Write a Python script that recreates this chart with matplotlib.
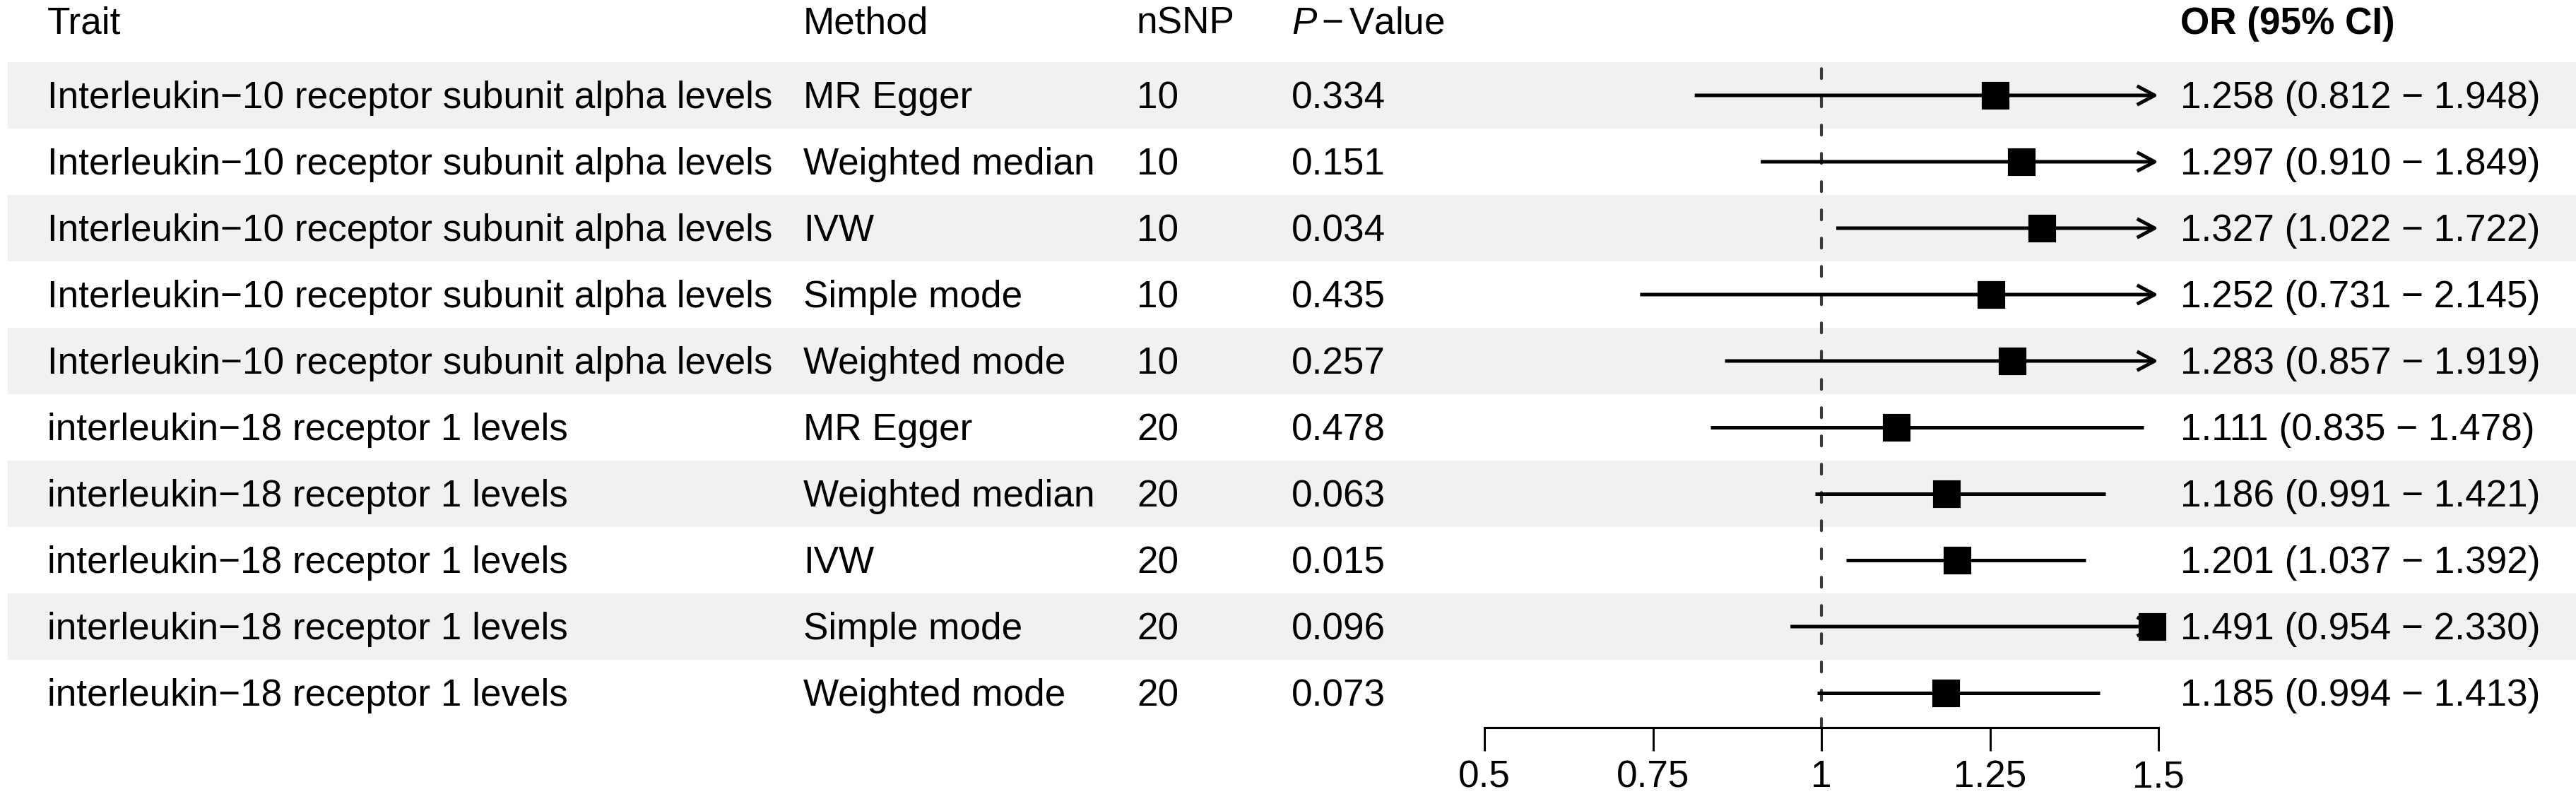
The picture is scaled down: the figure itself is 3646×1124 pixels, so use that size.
import matplotlib
matplotlib.use("Agg")
import matplotlib.pyplot as plt
from matplotlib.patches import Rectangle, FancyArrowPatch

plt.rcParams['font.family'] = ['Liberation Sans', 'DejaVu Sans']
plt.rcParams['mathtext.fontset'] = 'custom'
plt.rcParams['mathtext.rm'] = 'Liberation Sans'
plt.rcParams['mathtext.it'] = 'Liberation Sans:italic'
plt.rcParams['mathtext.bf'] = 'Liberation Sans:bold'

# ---------------- data ----------------
traits = ["Interleukin\u221210 receptor subunit alpha levels"] * 5 + \
         ["interleukin\u221218 receptor 1 levels"] * 5
methods = ["MR Egger", "Weighted median", "IVW", "Simple mode", "Weighted mode"] * 2
nsnp = [10, 10, 10, 10, 10, 20, 20, 20, 20, 20]
pvals = ["0.334", "0.151", "0.034", "0.435", "0.257",
         "0.478", "0.063", "0.015", "0.096", "0.073"]
or_est = [1.258, 1.297, 1.327, 1.252, 1.283, 1.111, 1.186, 1.201, 1.491, 1.185]
or_lo = [0.812, 0.910, 1.022, 0.731, 0.857, 0.835, 0.991, 1.037, 0.954, 0.994]
or_hi = [1.948, 1.849, 1.722, 2.145, 1.919, 1.478, 1.421, 1.392, 2.330, 1.413]
xticks = [0.5, 0.75, 1, 1.25, 1.5]
xticklabels = ["0.5", "0.75", "1", "1.25", "1.5"]
headers = ["Trait", "Method", "nSNP", r"$\mathit{P}\,{-}\,\mathrm{Value}$", "OR (95% CI)"]

# ---------------- layout (pixels) ----------------
W, H = 3646, 1124
DPI = 300
row_top = 88
row_h = 94
n = len(traits)
col_x = [67, 1137, 1609, 1828, 3086]
header_base = 48
band_color = "#EFF2F1"
fs = 12.75
x_lo, x_hi = 0.5, 1.5
fx0, fx1 = 2101, 3055
axis_y = 1030

fig = plt.figure(figsize=(W / DPI, H / DPI), dpi=DPI)
bg = fig.add_axes([0, 0, 1, 1])
bg.set_xlim(0, W)
bg.set_ylim(H, 0)
bg.axis("off")

# background bands
for i in range(n):
    if i % 2 == 0:
        bg.add_patch(Rectangle((11, row_top + i * row_h), W - 11, row_h,
                               facecolor=band_color, edgecolor="none", zorder=0))

# header
for j, h in enumerate(headers):
    weight = "bold" if j == 4 else "normal"
    bg.text(col_x[j], header_base, h, fontsize=fs, ha="left", va="baseline",
            fontweight=weight, color="black")

# table text
for i in range(n):
    yb = row_top + row_h * (i + 0.5) + 18
    ortxt = f"{or_est[i]:.3f} ({or_lo[i]:.3f} \u2212 {or_hi[i]:.3f})"
    vals = [traits[i], methods[i], str(nsnp[i]), pvals[i], ortxt]
    for j, v in enumerate(vals):
        bg.text(col_x[j], yb, v, fontsize=fs, ha="left", va="baseline", color="black")

# forest axes
ax = fig.add_axes([fx0 / W, 1 - axis_y / H, (fx1 - fx0) / W, (axis_y - row_top) / H])
ax.set_xlim(x_lo, x_hi)
ybot = (axis_y - row_top) / row_h - 0.5
ax.set_ylim(ybot, -0.5)
ax.patch.set_alpha(0)
for s in ["top", "left", "right"]:
    ax.spines[s].set_visible(False)
ax.spines["bottom"].set_linewidth(0.75)
ax.set_yticks([])
ax.set_xticks(xticks)
ax.set_xticklabels(xticklabels, fontsize=fs)
ax.tick_params(axis="x", direction="out", length=7.9, width=0.7, pad=3.0)

# reference line
ax.plot([1, 1], [-0.5, ybot], color="#3a3a3a", lw=1.0,
        linestyle=(7.4, (3.36, 6.24)), dash_capstyle="round", zorder=2, clip_on=False)

# CI lines / arrows
ys = list(range(n))
for i in range(n):
    lo = max(or_lo[i], x_lo)
    hi = min(or_hi[i], x_hi)
    if or_hi[i] > x_hi:
        arr = FancyArrowPatch((lo, ys[i]), (hi, ys[i]), arrowstyle="->,head_length=6,head_width=3.2",
                              mutation_scale=1, lw=1.2, color="black", shrinkA=0, shrinkB=0,
                              zorder=3, clip_on=False, capstyle="butt")
        ax.add_patch(arr)
    else:
        ax.plot([lo, hi], [ys[i], ys[i]], color="black", lw=1.2, solid_capstyle="butt",
                zorder=3, clip_on=False)

ax.plot(or_est, ys, marker="s", ms=8.4, color="black", ls="none", zorder=4, clip_on=False)

fig.savefig("out.png", dpi=DPI)
